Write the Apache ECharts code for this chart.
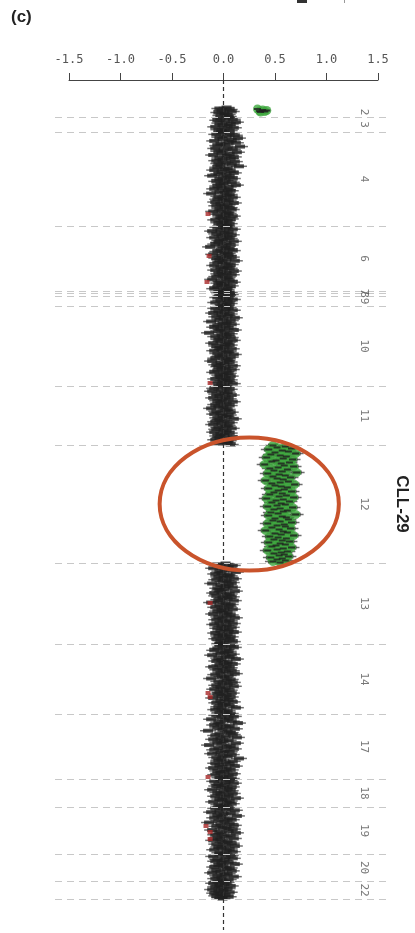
<!DOCTYPE html>
<html><head><meta charset="utf-8">
<script src="https://cdn.jsdelivr.net/npm/echarts@6/dist/echarts.min.js"></script>
<style>html,body{margin:0;padding:0;background:#fff}#c{width:415px;height:933px}</style>
</head><body><div id="c"></div>
<script>
// ---- axis ticks ----
const xTicks = [-1.5, -1.0, -0.5, 0.0, 0.5, 1.0, 1.5];

// ---- chromosome layout (probe index) ----
const chromNames  = ['2','3','4','6','7','8','9','10','11','12','13','14','17','18','19','20','22'];
const chromStarts = [27, 37, 52, 146, 211, 213, 216, 226, 306, 365, 483, 564, 634, 699, 727, 774, 801];
const chromEnds   = [37, 52, 146, 211, 213, 216, 226, 306, 365, 483, 564, 634, 699, 727, 774, 801, 819];
const genomeMax = 850;

// ---- log2 ratios per chromosome (x 0.01) ----
const chr2  = [3,-4,6,-2,8,-5,1,4,-3,5];
const chr3  = [5,-3,9,-6,2,12,-4,7,-1,4,-8,10,1,-5,6,-2];
const chr4  = [-2,6,-7,11,3,-4,14,-1,8,-9,5,12,-3,2,-6,16,4,-8,9,0,-5,13,-2,6,-10,3,10,-4,7,-1,-7,11,2,-5,8,-3,15,-6,4,1,-9,7,-2,10,-5,3,-11,6,-1,9,-4,2,-7,8,0,-3,12,-6,5,-2,-9,4,7,-4,1,-12,6,3,-5,9,-1,-6,5,2,-8,10,-3,4,-7,1,6,-4,8,-2,-10,3,5,-6,2,9,-3,-1,7,-8,4,0,-5,6,-2,3];
const chr6  = [4,-6,2,9,-3,-11,5,1,-7,8,-2,4,-9,6,0,-4,10,-5,3,-8,7,-1,-13,2,6,-3,9,-6,1,4,-10,5,-2,8,-7,3,-4,11,-1,-6,2,7,-9,4,-3,6,0,-8,10,-2,3,-5,8,-1,-7,4,2,-11,6,-3,9,-5,1,-2,7,-6,4,-9,3,0];
const chr7  = [3,-5,6];
const chr8  = [-4,7,-2];
const chr9  = [5,-6,2,9,-3,4,-8,6,-1,3];
const chr10 = [-3,5,-8,2,9,-5,1,-10,6,-2,4,-7,11,0,-4,7,-12,3,-1,8,-6,2,-9,5,-3,10,-5,1,-14,6,-2,3,-8,7,-1,-5,9,-3,4,-10,2,6,-7,1,-4,8,-2,-9,5,3,-6,10,-1,-4,7,-8,2,4,-11,6,-3,1,-7,9,-5,2,-2,8,-6,3,-9,5,0,-4,7,-3,2,-8,6,-1,4,-6,9,-2,1];
const chr11 = [-5,3,-9,6,-2,-11,4,1,-7,8,-4,2,-10,5,-1,-6,9,-3,3,-8,6,-5,0,-12,4,2,-7,7,-3,-9,5,-1,3,-6,10,-4,1,-8,6,-2,-10,4,2,-5,8,-7,0,3,-9,6,-3,1,-6,9,-4,2,-8,5,-1,4,-5,7];
const chr12 = [48,60,52,66,44,57,63,50,70,46,55,61,42,58,67,51,47,64,56,40,59,68,53,45,62,49,57,71,43,54,60,48,65,52,58,41,63,55,47,69,50,56,62,44,59,53,66,49,57,45,61,54,68,42,58,51,64,47,56,60,52,43,67,55,49,62,58,46,53,70,44,57,61,50,63,48,55,66,43,59,52,60,47,65,54,41,58,62,50,56,68,45,53,61,49,57,64,44,55,60,51,47,66,58,52,43,62,56,49,59,54,63,46,57,52,60,48,55];
const chr13 = [2,-6,9,-3,5,-10,1,7,-4,12,-2,-8,4,6,-5,0,10,-7,3,-1,8,-11,5,-3,2,9,-6,1,-4,11,-2,-9,6,3,-7,8,-1,4,-5,10,-3,-12,2,7,-4,5,-8,1,9,-2,-6,4,0,-10,7,3,-5,11,-1,-7,6,2,-4,9,-9,3,-2,8,-6,1,5,-3,10,-8,4,-1,-5,7,2,-7,6,-3,9,0,-4];
const chr14 = [-4,7,-1,10,-6,3,-9,5,1,-3,8,-11,2,6,-5,12,-2,-7,4,0,9,-4,3,-10,6,-1,-6,8,2,-3,11,-8,5,-2,1,-12,7,3,-5,9,-1,4,-7,10,-3,2,-9,6,0,-4,8,-6,3,-2,7,-10,1,5,-3,9,-7,2,-1,6,-5,12,-2,-8,4,1,-4,7];
const chr17 = [3,-7,10,-2,5,-12,1,8,-5,14,-3,-9,6,2,-6,11,-1,-15,4,7,-4,9,-8,2,13,-3,-10,5,0,-6,12,-2,-14,7,3,-5,10,-9,1,6,-3,-11,8,-1,4,-7,15,-2,-5,9,2,-8,6,-4,11,-1,-10,3,7,-6,1,-3,9,-8,5,0,-4,8];
const chr18 = [-3,6,-9,2,10,-5,1,-7,8,-2,4,-11,7,0,-6,9,-3,5,-8,2,12,-4,-1,6,-10,3,8,-5,1,-3];
const chr19 = [5,-8,2,11,-4,-12,7,0,-6,13,-2,-9,4,8,-5,1,-14,6,-3,10,-7,3,-1,9,-11,5,-4,12,-2,-8,7,1,-6,10,-3,-10,4,-1,8,-7,2,11,-5,-2,6,-9,3,9,-4,1];
const chr20 = [-4,7,-10,2,9,-6,1,-8,5,-2,11,-5,0,-9,6,3,-7,8,-3,-11,4,1,-6,10,-2,-8,5,-1];
const chr22 = [-6,3,-10,1,-4,7,-8,-2,4,-11,0,-5,6,-9,-3,2,-7,5,-4,-1];

// gained chromosome(s) and called single probes [log2 ratio, probe index]
const gainedChroms = ['12'];
const gainCalls = [[0.33,29],[0.38,30],[0.42,30.5],[0.35,31],[0.40,31.5],[0.36,32]];
const lossCalls = [[-0.15,134],[-0.14,176],[-0.16,202],[-0.13,303],[-0.13,523],[-0.15,613],[-0.13,617],[-0.15,697],[-0.17,746],[-0.13,752],[-0.13,759]];

// annotation ellipse (data units)
const circleCenterX = 0.25, circleRadiusX = 0.87, circleRadiusY = 66.5;

const ratios = {'2':chr2,'3':chr3,'4':chr4,'6':chr6,'7':chr7,'8':chr8,'9':chr9,'10':chr10,'11':chr11,'12':chr12,'13':chr13,'14':chr14,'17':chr17,'18':chr18,'19':chr19,'20':chr20,'22':chr22};

const allPts = [], gainPts = gainCalls.slice();
chromNames.forEach((name, i) => {
  const arr = ratios[name], n = arr.length, s = chromStarts[i], e = chromEnds[i];
  arr.forEach((v, j) => {
    const p = [v / 100, s + (j + 0.5) * (e - s) / n];
    allPts.push(p);
    if (gainedChroms.includes(name)) gainPts.push(p);
  });
});
const labelPts = chromNames.map((n, i) => [1.36, (chromStarts[i] + chromEnds[i]) / 2, n]);

const chart = echarts.init(document.getElementById('c'));
const mono = '"DejaVu Sans Mono", "Liberation Mono", monospace';
chart.setOption({
  animation: false,
  backgroundColor: '#fff',
  grid: [
    {left: 69, top: 80, width: 309, height: 850},
    {left: 55, top: 80, width: 335, height: 850}
  ],
  xAxis: [
    {gridIndex: 0, type: 'value', position: 'top', min: xTicks[0], max: xTicks[xTicks.length - 1], interval: 0.5,
     axisLine: {show: true, lineStyle: {color: '#444', width: 1}},
     axisTick: {show: true, length: 7, lineStyle: {color: '#444', width: 1}},
     axisLabel: {margin: 14, fontFamily: mono, fontSize: 12, color: '#555', formatter: v => v.toFixed(1)},
     splitLine: {show: false}},
    {gridIndex: 1, type: 'value', min: 0, max: 1, show: false}
  ],
  yAxis: [
    {gridIndex: 0, type: 'value', inverse: true, min: 0, max: genomeMax, show: false},
    {gridIndex: 1, type: 'value', inverse: true, min: 0, max: genomeMax, show: false}
  ],
  series: [
    {type: 'line', xAxisIndex: 1, yAxisIndex: 1, data: [[0, 0], [1, 0]], showSymbol: false, silent: true,
     lineStyle: {opacity: 0}, z: 1,
     markLine: {silent: true, symbol: 'none', label: {show: false},
       lineStyle: {color: '#c8c8c8', type: [7, 5], width: 1.2},
       data: chromEnds.map(v => ({yAxis: v}))}},
    {type: 'line', xAxisIndex: 0, yAxisIndex: 0, data: [[0, 0], [0, 1]], showSymbol: false, silent: true,
     lineStyle: {opacity: 0}, z: 1,
     markLine: {silent: true, symbol: 'none', label: {show: false},
       lineStyle: {color: '#333', type: [4, 3], width: 1.2},
       data: [{xAxis: 0}]}},
    {type: 'scatter', data: allPts, symbol: 'rect', symbolSize: [16, 1.5], silent: true,
     itemStyle: {color: '#4a4a4a'}, z: 2},
    {type: 'scatter', data: gainPts, symbol: 'circle', symbolSize: 9, silent: true,
     itemStyle: {color: '#3fa83f'}, z: 5},
    {type: 'scatter', data: allPts, symbol: 'rect', symbolSize: [10, 4], silent: true,
     itemStyle: {color: '#1f1f1f'}, z: 4},
    {type: 'scatter', data: gainPts, symbol: 'rect', symbolSize: [7, 2], silent: true,
     itemStyle: {color: '#1f1f1f'}, z: 6},
    {type: 'scatter', data: lossCalls, symbol: 'rect', symbolSize: [5, 4], silent: true,
     itemStyle: {color: '#a82828'}, z: 7},
    {type: 'scatter', data: labelPts, symbolSize: 0, silent: true, z: 8,
     label: {show: true, position: 'inside', rotate: -90, formatter: p => p.data[2],
       fontFamily: mono, fontSize: 11, color: '#555'}}
  ]
});

const c0 = chart.convertToPixel({gridIndex: 0}, [circleCenterX, (chromStarts[9] + chromEnds[9]) / 2]);
const cx1 = chart.convertToPixel({gridIndex: 0}, [circleCenterX + circleRadiusX, 0])[0];
const cy1 = chart.convertToPixel({gridIndex: 0}, [0, (chromStarts[9] + chromEnds[9]) / 2 + circleRadiusY])[1];

chart.setOption({
  graphic: [
    {type: 'ellipse', shape: {cx: c0[0], cy: c0[1], rx: cx1 - c0[0], ry: cy1 - c0[1]},
     style: {fill: 'none', stroke: '#c9532b', lineWidth: 4}, z: 100},
    {type: 'text', x: 11, y: 9, style: {text: '(c)', font: 'bold 17px "Liberation Sans", Arial, sans-serif', fill: '#222'}},
    {type: 'text', x: 402, y: 504, rotation: -Math.PI / 2,
     style: {text: 'CLL-29', font: 'bold 17px "Liberation Sans", Arial, sans-serif', fill: '#222', align: 'center', verticalAlign: 'middle'}},
    {type: 'rect', shape: {x: 297, y: 0, width: 10, height: 3}, style: {fill: '#333'}},
    {type: 'rect', shape: {x: 344, y: 0, width: 1, height: 3}, style: {fill: '#999'}}
  ]
});
</script></body></html>
